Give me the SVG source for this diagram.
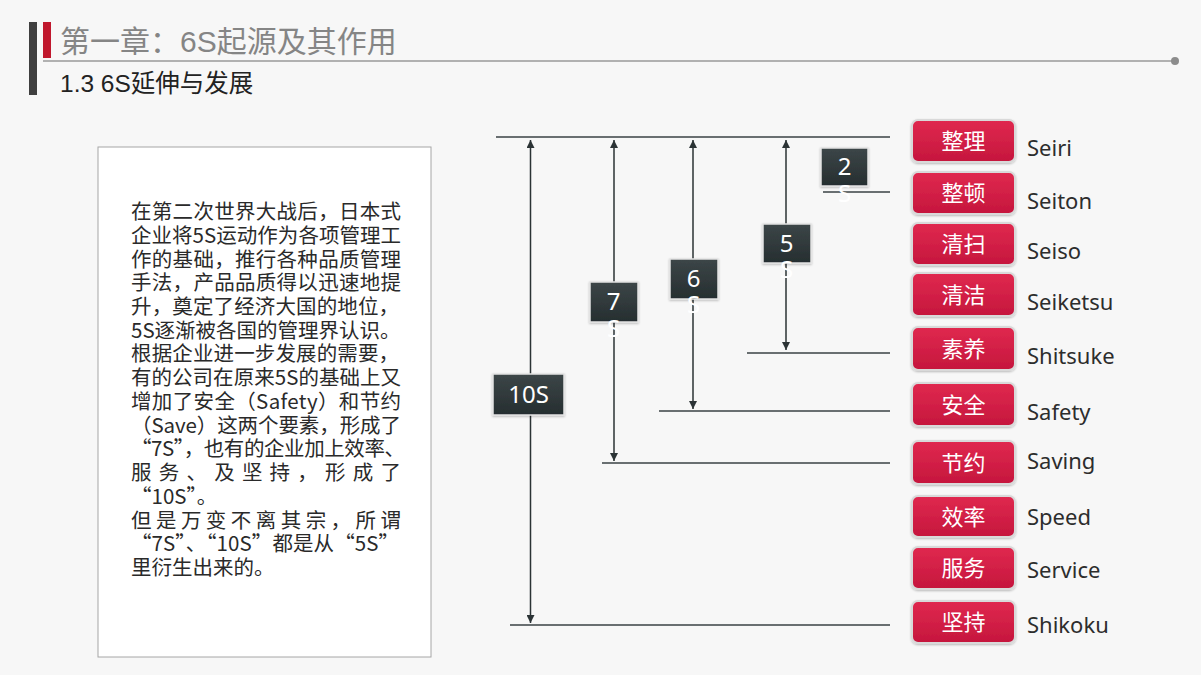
<svg xmlns="http://www.w3.org/2000/svg" width="1201" height="675" viewBox="0 0 1201 675">
<defs>
<linearGradient id="gRed" x1="0" y1="0" x2="0" y2="1">
<stop offset="0" stop-color="#e0294f"/>
<stop offset="1" stop-color="#c5163d"/>
</linearGradient>
<linearGradient id="gDark" x1="0" y1="0" x2="0" y2="1">
<stop offset="0" stop-color="#3c4648"/>
<stop offset="1" stop-color="#262e30"/>
</linearGradient>
<filter id="sh" x="-20%" y="-20%" width="140%" height="150%">
<feDropShadow dx="0" dy="1" stdDeviation="1.2" flood-color="#000" flood-opacity="0.25"/>
</filter>
<marker id="ah" viewBox="0 0 10 10" refX="10" refY="5" markerWidth="9" markerHeight="8" markerUnits="userSpaceOnUse" orient="auto-start-reverse">
<path d="M0,0 L10,5 L0,10 z" fill="#2b3335"/>
</marker>
<style>
.title{font-family:"Liberation Sans","Noto Sans CJK SC",sans-serif;font-size:30px;fill:#858585}
.sub{font-family:"Liberation Sans","Noto Sans CJK SC",sans-serif;font-size:24.5px;fill:#222}
.body{font-family:"Noto Sans CJK SC",sans-serif;font-size:20.5px;fill:#2a2a2a}
.red rect{fill:url(#gRed);stroke:#d9d9d9;stroke-width:2}
.red .zh{font-family:"Noto Sans CJK SC",sans-serif;font-size:22px;fill:#fff;text-anchor:middle}
.red .en{font-family:"Noto Sans","Noto Sans CJK SC",sans-serif;font-size:22px;fill:#2d2d2d;text-anchor:start}
.dark rect{fill:url(#gDark);stroke:#e4e4e4;stroke-width:1.5}
.dark text{font-family:"Noto Sans","Noto Sans CJK SC",sans-serif;font-size:24px;fill:#fff;text-anchor:middle}
.hl{stroke:#3a4244;stroke-width:1.5;fill:none}
.ar{stroke:#2b3335;stroke-width:1.5;fill:none;marker-start:url(#ah);marker-end:url(#ah)}
</style>
</defs>
<rect x="0" y="0" width="1201" height="675" fill="#f7f7f7"/>

<g id="header">
<rect x="29" y="22" width="8" height="73" fill="#3f3f3f"/>
<rect x="43" y="22" width="8" height="36" fill="#c0182d"/>
<line x1="43" y1="61" x2="1175" y2="61" stroke="#9a9a9a" stroke-width="1.6"/>
<circle cx="1175" cy="61" r="4" fill="#8c8c8c"/>
<text class="title" x="60" y="52">第一章：6S起源及其作用</text>
<text class="sub" x="60" y="92">1.3 6S延伸与发展</text>
</g>

<g id="textbox">
<rect x="98" y="147" width="333" height="510" fill="#ffffff" stroke="#a6a6a6" stroke-width="1"/>
<text class="body" x="131" y="219" textLength="270" lengthAdjust="spacing">在第二次世界大战后，日本式</text>
<text class="body" x="131" y="242.7" textLength="270" lengthAdjust="spacing">企业将5S运动作为各项管理工</text>
<text class="body" x="131" y="266.5" textLength="270" lengthAdjust="spacing">作的基础，推行各种品质管理</text>
<text class="body" x="131" y="290.2" textLength="270" lengthAdjust="spacing">手法，产品品质得以迅速地提</text>
<text class="body" x="131" y="313.9" textLength="268" lengthAdjust="spacing">升，奠定了经济大国的地位，</text>
<text class="body" x="131" y="337.6">5S逐渐被各国的管理界认识。</text>
<text class="body" x="131" y="361.4" textLength="268" lengthAdjust="spacing">根据企业进一步发展的需要，</text>
<text class="body" x="131" y="385.1" textLength="270" lengthAdjust="spacing">有的公司在原来5S的基础上又</text>
<text class="body" x="131" y="408.8" textLength="270" lengthAdjust="spacing">增加了安全（Safety）和节约</text>
<text class="body" x="131" y="432.6" textLength="270" lengthAdjust="spacing">（Save）这两个要素，形成了</text>
<text class="body" x="131" y="456.3" textLength="274" lengthAdjust="spacing">“7S”，也有的企业加上效率、</text>
<text class="body" x="131" y="480" textLength="270" lengthAdjust="spacing">服务、及坚持，形成了</text>
<text class="body" x="131" y="503.8">“10S”。</text>
<text class="body" x="131" y="527.5" textLength="270" lengthAdjust="spacing">但是万变不离其宗，所谓</text>
<text class="body" x="131" y="551.2" textLength="268" lengthAdjust="spacing">“7S”、“10S”都是从“5S”</text>
<text class="body" x="131" y="574.9">里衍生出来的。</text>
</g>

<g id="connectors">
<line class="hl" x1="496" y1="137" x2="890" y2="137"/>
<line class="hl" x1="823" y1="192" x2="890" y2="192"/>
<line class="hl" x1="747" y1="353" x2="890" y2="353"/>
<line class="hl" x1="659" y1="411" x2="890" y2="411"/>
<line class="hl" x1="602" y1="463" x2="890" y2="463"/>
<line class="hl" x1="510" y1="625" x2="890" y2="625"/>
<line class="ar" x1="530.5" y1="140" x2="530.5" y2="623"/>
<line class="ar" x1="614" y1="140" x2="614" y2="461"/>
<line class="ar" x1="693" y1="140" x2="693" y2="409"/>
<line class="ar" x1="786" y1="140" x2="786" y2="350"/>
</g>

<g id="n2S" class="dark">
<rect x="821" y="148" width="47" height="38" filter="url(#sh)"/>
<text x="844.5" y="175">2</text>
<text x="844.5" y="202">S</text>
</g>
<g id="n5S" class="dark">
<rect x="763" y="224" width="48" height="39" filter="url(#sh)"/>
<text x="786.5" y="252">5</text>
<text x="786.5" y="278">S</text>
</g>
<g id="n6S" class="dark">
<rect x="670" y="259" width="48" height="40" filter="url(#sh)"/>
<text x="693.5" y="287">6</text>
<text x="693.5" y="313">S</text>
</g>
<g id="n7S" class="dark">
<rect x="590" y="282" width="48" height="40" filter="url(#sh)"/>
<text x="613.5" y="310">7</text>
<text x="613.5" y="337">S</text>
</g>
<g id="n10S" class="dark">
<rect x="493" y="374" width="71" height="41" filter="url(#sh)"/>
<text x="528.5" y="403">10S</text>
</g>

<g id="seiri" class="red"><rect x="912" y="120" width="103" height="42" rx="6" filter="url(#sh)"/><text class="zh" x="963.5" y="149">整理</text><text class="en" x="1027" y="156">Seiri</text></g>
<g id="seiton" class="red"><rect x="912" y="172" width="103" height="42" rx="6" filter="url(#sh)"/><text class="zh" x="963.5" y="201">整顿</text><text class="en" x="1027" y="209">Seiton</text></g>
<g id="seiso" class="red"><rect x="912" y="223" width="103" height="42" rx="6" filter="url(#sh)"/><text class="zh" x="963.5" y="252">清扫</text><text class="en" x="1027" y="259">Seiso</text></g>
<g id="seiketsu" class="red"><rect x="912" y="273" width="103" height="43" rx="6" filter="url(#sh)"/><text class="zh" x="963.5" y="303">清洁</text><text class="en" x="1027" y="310">Seiketsu</text></g>
<g id="shitsuke" class="red"><rect x="912" y="327" width="103" height="43" rx="6" filter="url(#sh)"/><text class="zh" x="963.5" y="357">素养</text><text class="en" x="1027" y="364">Shitsuke</text></g>
<g id="safety" class="red"><rect x="912" y="383" width="103" height="43" rx="6" filter="url(#sh)"/><text class="zh" x="963.5" y="413">安全</text><text class="en" x="1027" y="420">Safety</text></g>
<g id="saving" class="red"><rect x="912" y="441" width="103" height="43" rx="6" filter="url(#sh)"/><text class="zh" x="963.5" y="471">节约</text><text class="en" x="1027" y="469">Saving</text></g>
<g id="speed" class="red"><rect x="912" y="496" width="103" height="41" rx="6" filter="url(#sh)"/><text class="zh" x="963.5" y="525">效率</text><text class="en" x="1027" y="525">Speed</text></g>
<g id="service" class="red"><rect x="912" y="547" width="103" height="42" rx="6" filter="url(#sh)"/><text class="zh" x="963.5" y="576">服务</text><text class="en" x="1027" y="578">Service</text></g>
<g id="shikoku" class="red"><rect x="912" y="601" width="103" height="42" rx="6" filter="url(#sh)"/><text class="zh" x="963.5" y="630">坚持</text><text class="en" x="1027" y="633">Shikoku</text></g>
</svg>
